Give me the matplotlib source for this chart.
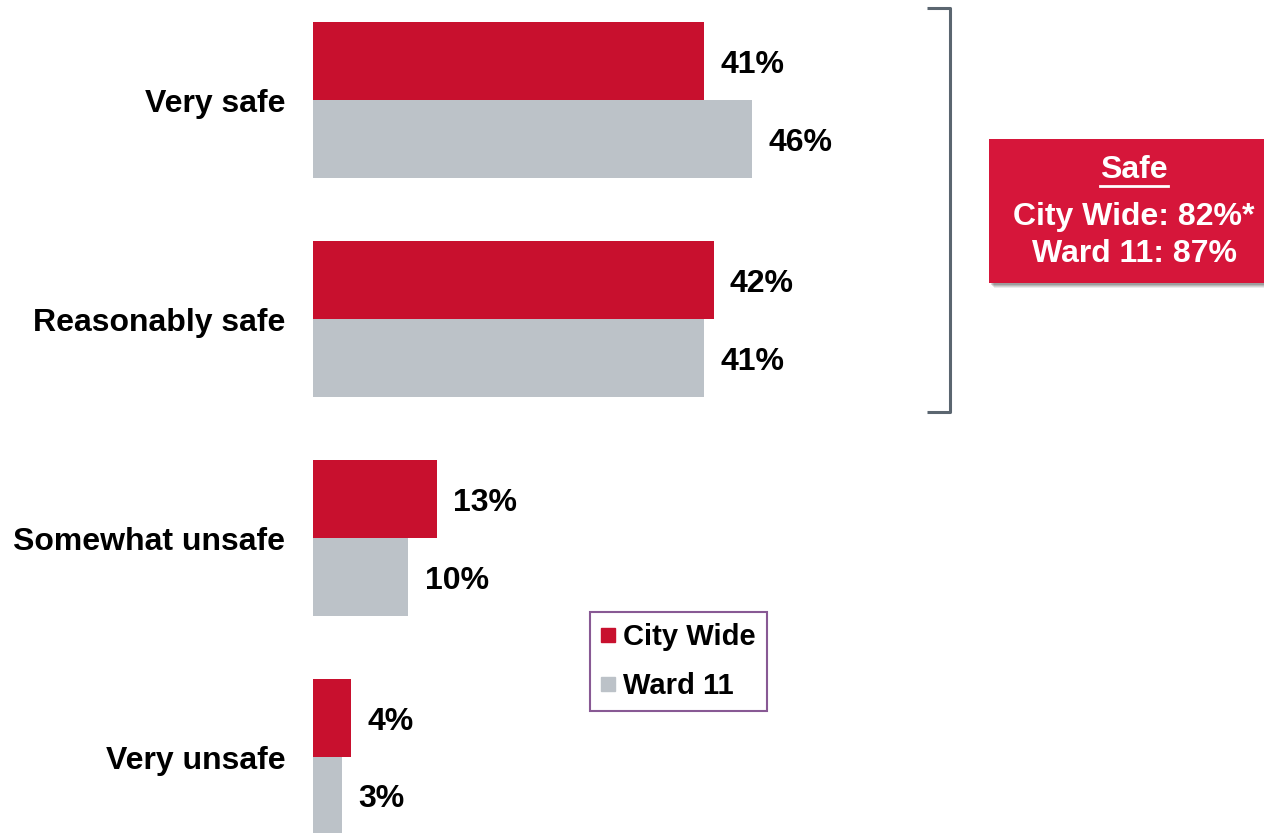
import matplotlib.pyplot as plt
import matplotlib.patches as mpatches
from matplotlib.lines import Line2D
import numpy as np

plt.rcParams['font.family'] = ['Liberation Sans', 'DejaVu Sans']

categories = ["Very safe", "Reasonably safe", "Somewhat unsafe", "Very unsafe"]
city_wide = [41, 42, 13, 4]
ward_11 = [46, 41, 10, 3]
series_names = ["City Wide", "Ward 11"]
box_title = "Safe"
box_lines = ["City Wide: 82%*", "Ward 11: 87%"]

RED = "#C8102E"
GREY = "#BCC2C8"
BOX_RED = "#D6163A"
FS = 23

W, H = 1264, 833
fig = plt.figure(figsize=(W / 100, H / 100), dpi=100)
ax = fig.add_axes([313 / W, 0, 1 - 313 / W, 1])

y = np.arange(len(categories))
h = 0.356
ax.barh(y - h / 2, city_wide, height=h, color=RED, label=series_names[0])
ax.barh(y + h / 2, ward_11, height=h, color=GREY, label=series_names[1])

ax.set_xlim(0, (W - 313) / 9.54)
ax.set_ylim(3.347, -0.457)

for i, (a, b) in enumerate(zip(city_wide, ward_11)):
    ax.text(a + 1.7, i - h / 2, f"{a}%", va="center_baseline", ha="left",
            fontsize=FS, fontweight="bold")
    ax.text(b + 1.7, i + h / 2, f"{b}%", va="center_baseline", ha="left",
            fontsize=FS, fontweight="bold")

ax.set_yticks(y)
ax.set_yticklabels(categories, fontsize=FS, fontweight="bold")
ax.tick_params(axis="y", length=0, pad=20)
ax.set_xticks([])
for s in ax.spines.values():
    s.set_visible(False)

# bracket around the "safe" categories
bx = [927 / W, 950 / W, 950 / W, 927 / W]
by = [1 - 8 / H, 1 - 8 / H, 1 - 412 / H, 1 - 412 / H]
fig.add_artist(Line2D(bx, by, transform=fig.transFigure, color="#5B6670",
                      lw=2.2, solid_joinstyle="round", solid_capstyle="butt"))

# summary box with soft shadow
bx0, by0, bw, bh = 989 / W, 1 - 283 / H, 300 / W, 144 / H
for k, a in [(5, 0.08), (4, 0.1), (3, 0.12), (2, 0.15)]:
    fig.add_artist(mpatches.Rectangle((bx0 + k / W, by0 - k / H), bw, bh,
                                      transform=fig.transFigure, color="black",
                                      alpha=a, lw=0))
fig.add_artist(mpatches.Rectangle((bx0, by0), bw, bh, transform=fig.transFigure,
                                  color=BOX_RED, lw=0))
cx = 1134 / W
t = fig.text(cx, 1 - 170 / H, box_title, color="white", fontsize=FS,
             fontweight="bold", ha="center", va="center")
fig.text(cx, 1 - 217 / H, box_lines[0], color="white", fontsize=FS,
         fontweight="bold", ha="center", va="center")
fig.text(cx, 1 - 254 / H, box_lines[1], color="white", fontsize=FS,
         fontweight="bold", ha="center", va="center")

# underline for the box title
fig.canvas.draw()
bb = t.get_window_extent()
uy = 1 - 186 / H
fig.add_artist(Line2D([bb.x0 / W, bb.x1 / W], [uy, uy], transform=fig.transFigure,
                      color="white", lw=2))

handles = [Line2D([], [], marker="s", ls="", color=RED, markersize=10),
           Line2D([], [], marker="s", ls="", color=GREY, markersize=10)]
leg = fig.legend(handles, series_names, loc="upper left",
                 bbox_to_anchor=(590 / W, 1 - 612 / H), borderaxespad=0,
                 prop={"size": 21, "weight": "bold"}, fancybox=False,
                 edgecolor="#6B2F7A", handlelength=0.5, handletextpad=0.25,
                 labelspacing=0.72, borderpad=0.38)
leg.get_frame().set_linewidth(1.5)

fig.savefig("out.png", dpi=100)
